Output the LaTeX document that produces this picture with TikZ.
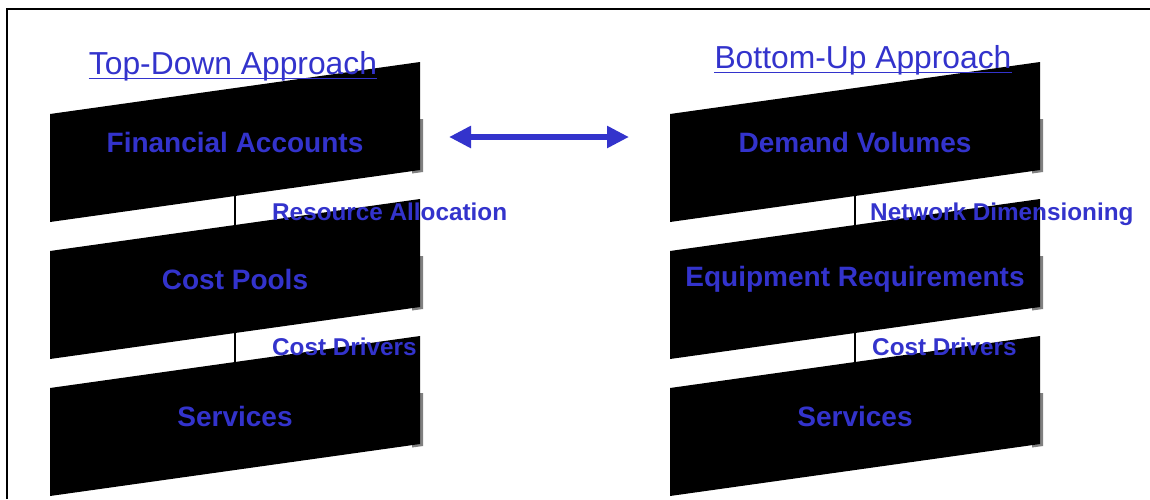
\documentclass[tikz,border=0pt]{standalone}
\usepackage{fontspec}
\setmainfont{Liberation Sans}
\usetikzlibrary{arrows.meta}
\definecolor{txtblue}{RGB}{51,51,204}
\definecolor{shadowgray}{RGB}{128,128,128}
\tikzset{
  boxtext/.style={text=txtblue, font=\fontsize{28}{30}\selectfont\bfseries, inner sep=0pt},
  sidelabel/.style={text=txtblue, font=\fontsize{24.3}{26}\selectfont\bfseries, inner sep=0pt, anchor=base west},
  titletext/.style={text=txtblue, font=\fontsize{31.8}{34}\selectfont, inner sep=0pt, anchor=base},
  uline/.style={draw=txtblue, line width=1.6pt},
  linkline/.style={draw=black, line width=1.6pt},
  bigarrow/.style={draw=txtblue, line width=6pt, {Triangle[length=22pt,width=21pt]}-{Triangle[length=22pt,width=21pt]}},
  framebox/.style={draw=black, line width=2pt},
}
% #1 name, #2 x of left edge, #3 y of top-left corner, #4 text
\newcommand\SlabBox[4]{%
  \fill[shadowgray] (#2+362,#3+5) -- (#2+373,#3+5) -- (#2+373,#3+58) -- (#2+362,#3+59.5) -- cycle;
  \fill[black] (#2,#3) -- (#2+370,#3-52) -- (#2+370,#3+56) -- (#2,#3+108) -- cycle;
  \coordinate (#1-b) at (#2+185,#3+82);
  \coordinate (#1-t) at (#2+185,#3-26);
  \node[boxtext] (#1) at (#2+185,#3+28) {#4};
}
\begin{document}
\begin{tikzpicture}[x=1pt,y=-1pt]
\useasboundingbox (0,0) rectangle (1150,499);
% frame (only top and left edges visible)
\coordinate (fbl) at (7,499);
\coordinate (ftl) at (7,9);
\coordinate (ftr) at (1150,9);
\draw[framebox] (fbl) -- (ftl) -- (ftr);

% left column
\SlabBox{fa}{50}{114}{Financial Accounts}
\SlabBox{cp}{50}{251}{Cost Pools}
\SlabBox{sl}{50}{388}{Services}
% right column
\SlabBox{dv}{670}{114}{Demand Volumes}
\SlabBox{er}{670}{251}{Equipment Requirements}
\SlabBox{sr}{670}{388}{Services}

% connectors
\draw[linkline] (fa-b) -- (cp-t);
\draw[linkline] (cp-b) -- (sl-t);
\draw[linkline] (dv-b) -- (er-t);
\draw[linkline] (er-b) -- (sr-t);

% side labels
\node[sidelabel] (ra) at (272,220) {Resource Allocation};
\node[sidelabel] (cdl) at (272,355) {Cost Drivers};
\node[sidelabel] (nd) at (870,220) {Network Dimensioning};
\node[sidelabel] (cdr) at (872,355) {Cost Drivers};

% titles
\node[titletext] (tdt) at (233,74) {Top-Down Approach};
\draw[uline] ([yshift=-4.5pt]tdt.base west) -- ([yshift=-4.5pt]tdt.base east);
\node[titletext] (but) at (863,68) {Bottom-Up Approach};
\draw[uline] ([yshift=-4.5pt]but.base west) -- ([yshift=-4.5pt]but.base east);

% double arrow
\coordinate (arrL) at (449,137);
\coordinate (arrR) at (629,137);
\draw[bigarrow] (arrL) -- (arrR);
\end{tikzpicture}
\end{document}
